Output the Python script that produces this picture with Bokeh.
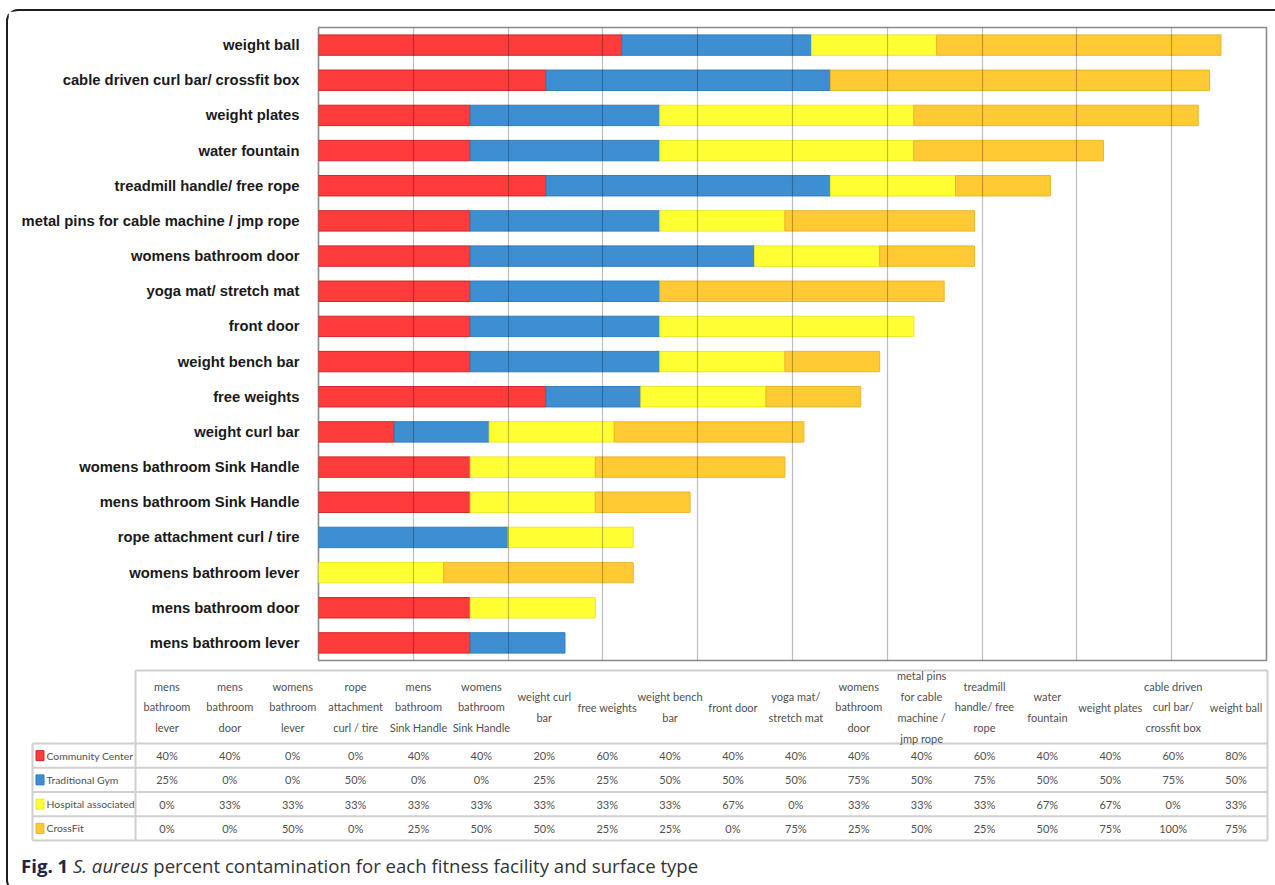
from bokeh.plotting import figure
from bokeh.models import ColumnDataSource, FactorRange, Range1d, FixedTicker, Div
from bokeh.layouts import column
from bokeh.embed import file_html
from bokeh.resources import INLINE
from bokeh.core.properties import value

# ---------------- data ----------------
surfaces = [
    "mens bathroom lever", "mens bathroom door", "womens bathroom lever",
    "rope attachment curl / tire", "mens bathroom Sink Handle",
    "womens bathroom Sink Handle", "weight curl bar", "free weights",
    "weight bench bar", "front door", "yoga mat/ stretch mat",
    "womens bathroom door", "metal pins for cable machine / jmp rope",
    "treadmill handle/ free rope", "water fountain", "weight plates",
    "cable driven curl bar/ crossfit box", "weight ball",
]
header_labels = [
    "mens\nbathroom\nlever", "mens\nbathroom\ndoor", "womens\nbathroom\nlever",
    "rope\nattachment\ncurl / tire", "mens\nbathroom\nSink Handle",
    "womens\nbathroom\nSink Handle", "weight curl\nbar", "free weights",
    "weight bench\nbar", "front door", "yoga mat/\nstretch mat",
    "womens\nbathroom\ndoor", "metal pins\nfor cable\nmachine /\njmp rope",
    "treadmill\nhandle/ free\nrope", "water\nfountain", "weight plates",
    "cable driven\ncurl bar/\ncrossfit box", "weight ball",
]
facilities = ["Community Center", "Traditional Gym", "Hospital associated", "CrossFit"]
community_center = [40, 40, 0, 0, 40, 40, 20, 60, 40, 40, 40, 40, 40, 60, 40, 40, 60, 80]
traditional_gym = [25, 0, 0, 50, 0, 0, 25, 25, 50, 50, 50, 75, 50, 75, 50, 50, 75, 50]
hospital_associated = [0, 33, 33, 33, 33, 33, 33, 33, 33, 67, 0, 33, 33, 33, 67, 67, 0, 33]
crossfit = [0, 0, 50, 0, 25, 50, 50, 25, 25, 0, 75, 25, 50, 25, 50, 75, 100, 75]
grid_ticks = [0.25, 0.5, 0.75, 1.0, 1.25, 1.5, 1.75, 2.0, 2.25]

colors = ["#ff3c3c", "#3e8fd2", "#ffff33", "#ffca33"]
edges = ["#cf2626", "#2f7dbd", "#e9e92c", "#eab52a"]

series = [community_center, traditional_gym, hospital_associated, crossfit]

W = 1265

# ---------------- bar chart ----------------
p = figure(y_range=FactorRange(*surfaces), x_range=Range1d(0, 2.5),
           width=W, height=651, output_backend="svg", toolbar_location=None,
           min_border_left=310, min_border_right=7, min_border_top=16,
           min_border_bottom=2)
p.frame_align = False

base = [0.0] * len(surfaces)
for s, fc, lc in zip(series, colors, edges):
    vals = [v / 100 for v in s]
    right = [b + v for b, v in zip(base, vals)]
    src = ColumnDataSource(dict(surface=surfaces, left=base, right=right,
                                la=[1.0 if v > 0 else 0.0 for v in vals]))
    p.hbar(y="surface", left="left", right="right", height=0.58, source=src,
           fill_color=fc, line_color=lc, line_width=1, line_alpha="la")
    base = right

p.xaxis.visible = False
p.ygrid.visible = False
p.xgrid.ticker = FixedTicker(ticks=grid_ticks)
p.xgrid.grid_line_color = "black"
p.xgrid.grid_line_alpha = 0.26
p.xgrid.grid_line_width = 1.2
p.xgrid.level = "overlay"

p.yaxis.axis_line_color = None
p.yaxis.major_tick_line_color = None
p.yaxis.minor_tick_line_color = None
p.yaxis.major_label_text_font = "Liberation Sans"
p.yaxis.major_label_text_font_size = "14.8px"
p.yaxis.major_label_text_font_style = "bold"
p.yaxis.major_label_text_color = "#1a1a1a"
p.yaxis.major_label_standoff = 13

p.outline_line_color = "#8a8a8a"
p.outline_line_width = 1.6

# ---------------- data table ----------------
TH = 180
t = figure(x_range=Range1d(0, W), y_range=Range1d(TH, 0), width=W, height=TH,
           output_backend="svg", toolbar_location=None,
           min_border=0, min_border_left=0, min_border_right=0,
           min_border_top=0, min_border_bottom=0)
t.frame_align = False
t.axis.visible = False
t.grid.visible = False
t.outline_line_color = None

lab_x0, col_x0, col_x1 = 24, 127, 1259
head_y0, head_y1 = 8, 81
row_h = 24.25
ncol = len(surfaces)
cw = (col_x1 - col_x0) / ncol
row_bounds = [head_y1 + i * row_h for i in range(len(facilities) + 1)]
line_col = "#d0d0d0"

hx0 = [col_x0] + [lab_x0] * len(row_bounds)
hx1 = [col_x1] * (len(row_bounds) + 1)
hy = [head_y0] + row_bounds
t.segment(x0=hx0, y0=hy, x1=hx1, y1=hy, line_color=line_col, line_width=2)
vx = [lab_x0, col_x0, col_x1]
vy0 = [head_y1, head_y0, head_y0]
vy1 = [row_bounds[-1]] * 3
t.segment(x0=vx, y0=vy0, x1=vx, y1=vy1, line_color=line_col, line_width=2)

TFONT = value("Lato")
cx = [col_x0 + (i + 0.5) * cw for i in range(ncol)]
t.text(x=cx, y=[(head_y0 + head_y1) / 2] * ncol, text=header_labels,
       text_font=TFONT, text_font_size="11px", text_color="#505050",
       text_align="center", text_baseline="middle", text_line_height=1.6)

for r, (fac, s) in enumerate(zip(facilities, series)):
    yc = (row_bounds[r] + row_bounds[r + 1]) / 2
    t.text(x=cx, y=[yc] * ncol, text=[f"{v}%" for v in s],
           text_font=TFONT, text_font_size="11px", text_color="#505050",
           text_align="center", text_baseline="middle")
    t.rect(x=[31.5], y=[yc], width=8, height=10, fill_color=colors[r],
           line_color=edges[r], line_width=1)
    t.text(x=[38], y=[yc], text=[fac], text_font=TFONT,
           text_font_size="10.4px", text_color="#505050",
           text_align="left", text_baseline="middle")

# ---------------- caption ----------------
cap = Div(text='<span style="font-weight:bold;color:#23234a">Fig. 1</span> '
               '<i>S. aureus</i> percent contamination for each fitness facility '
               'and surface type',
          width=W, height=38,
          styles={"font-family": "Open Sans", "font-size": "18.6px",
                  "color": "#333333", "padding-left": "8px",
                  "padding-top": "7px", "line-height": "24px",
                  "box-sizing": "border-box"})

layout = column(p, t, cap, spacing=0, margin=(9, 0, 0, 6),
                styles={"border": "2px solid #1e1e1e", "border-right": "none",
                        "border-radius": "12px 0 0 12px",
                        "background": "white"})

open("out.html", "w").write(file_html(layout, INLINE))
